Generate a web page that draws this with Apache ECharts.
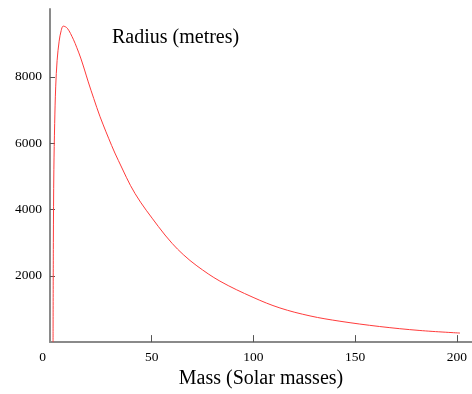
<!DOCTYPE html>
<html>
<head>
<meta charset="utf-8">
<script src="https://cdn.jsdelivr.net/npm/echarts@6/dist/echarts.min.js"></script>
<style>html,body{margin:0;padding:0;background:#fff}#c{width:472px;height:394px}</style>
</head>
<body>
<div id="c"></div>
<script>
const massValues = [1.5, 1.65, 1.9, 2.3, 2.8, 3.5, 4.5, 5.5, 6.5, 8.5, 11.45, 13.2, 15.1, 17, 18.8, 21.5, 24.6, 30.3, 33.6, 41.8, 53.2, 60, 65.5, 72.2, 83.5, 99.8, 113, 127.8, 142.5, 162, 181.8, 201.5];
const radiusValues = [0, 3000, 5200, 6600, 7700, 8500, 9080, 9400, 9533, 9470, 9138, 8880, 8570, 8210, 7850, 7350, 6800, 5930, 5480, 4481, 3492, 2980, 2640, 2300, 1840, 1350, 1030, 790, 630, 470, 350, 273];
const xTicks = [50, 100, 150, 200];
const yTicks = [2000, 4000, 6000, 8000];
const titleText = 'Radius (metres)';
const xName = 'Mass (Solar masses)';

const chart = echarts.init(document.getElementById('c'));
const serif = 'Liberation Serif';
chart.setOption({
  animation: false,
  title: { text: titleText, left: 112, top: 28, padding: 0,
    textStyle: { fontFamily: serif, fontSize: 20, fontWeight: 'normal', color: '#000' } },
  grid: { left: 50, right: 0, top: 9, bottom: 46.5 },
  xAxis: {
    type: 'value', min: 0, max: 207.4,
    name: xName, nameLocation: 'middle', nameGap: 26,
    nameTextStyle: { fontFamily: serif, fontSize: 20, color: '#000' },
    axisLine: { lineStyle: { color: '#8a8a8a', width: 2 } },
    axisTick: { inside: true, length: 7, customValues: xTicks, lineStyle: { color: '#555', width: 1 } },
    axisLabel: { margin: 8, fontFamily: serif, fontSize: 13.5, color: '#000', customValues: xTicks,
      formatter: v => String(v) },
    splitLine: { show: false }
  },
  yAxis: {
    type: 'value', min: 0, max: 10050,
    axisLine: { show: true, lineStyle: { color: '#8a8a8a', width: 2 } },
    axisTick: { show: true, inside: true, length: 5, customValues: yTicks, lineStyle: { color: '#555', width: 1 } },
    axisLabel: { margin: 8, fontFamily: serif, fontSize: 13.5, color: '#000', customValues: yTicks,
      formatter: v => String(v) },
    splitLine: { show: false }
  },
  graphic: [{ type: 'text', x: 42.5, y: 357.7,
    style: { text: '0', font: '13.5px "Liberation Serif"', fill: '#000', align: 'center', verticalAlign: 'middle' } }],
  series: [{
    type: 'line', showSymbol: false, smooth: 0.35,
    data: massValues.map((m, i) => [m, radiusValues[i]]),
    lineStyle: { color: '#ff3b3b', width: 1 }
  }]
});
</script>
</body>
</html>
